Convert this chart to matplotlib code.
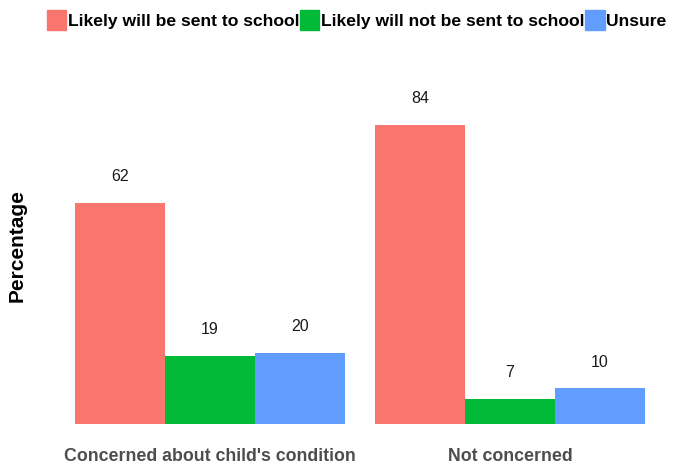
import numpy as np
import matplotlib.pyplot as plt
from matplotlib.patches import Patch

plt.rcParams['font.family'] = ['Liberation Sans', 'DejaVu Sans']

groups = ["Concerned about child's condition", "Not concerned"]
series = ["Likely will be sent to school", "Likely will not be sent to school", "Unsure"]
values = [[62, 84], [19, 7], [20, 10]]
colors = ['#F8766D', '#00BA38', '#619CFF']

fig = plt.figure(figsize=(6.73, 4.68), dpi=100)
ax = fig.add_axes([60/673, 44/468, 600/673, 356/468])

x = np.arange(1, len(groups) + 1)
w = 0.3
for i, (name, vals) in enumerate(zip(series, values)):
    pos = x + (i - 1) * w
    ax.bar(pos, vals, width=w, color=colors[i], label=name)
    for p, v in zip(pos, vals):
        ax.annotate(str(v), (p, v), xytext=(0, 19), textcoords='offset points',
                    ha='center', va='center', fontsize=11.5, color='#1a1a1a')

ax.set_xlim(0.5, 2.5)
ax.set_ylim(0, 100)
ax.set_xticks(x)
ax.set_xticklabels(groups, fontsize=12.8, fontweight='bold', color='#4D4D4D')
ax.tick_params(axis='x', length=0, pad=17)
ax.set_yticks([])
ax.set_ylabel('Percentage', fontsize=15, fontweight='bold')
ax.yaxis.set_label_coords(-0.056, 0.5)
for s in ax.spines.values():
    s.set_visible(False)

handles = [Patch(color=c) for c in colors]
fig.legend(handles, series, loc='center', bbox_to_anchor=(0.53, 0.957), ncol=3,
           frameon=False, handlelength=1.1, handleheight=1.35, handletextpad=0.1,
           columnspacing=0.05, prop={'size': 12.6, 'weight': 'bold'}, borderpad=0)

fig.savefig('out.png', dpi=100)
